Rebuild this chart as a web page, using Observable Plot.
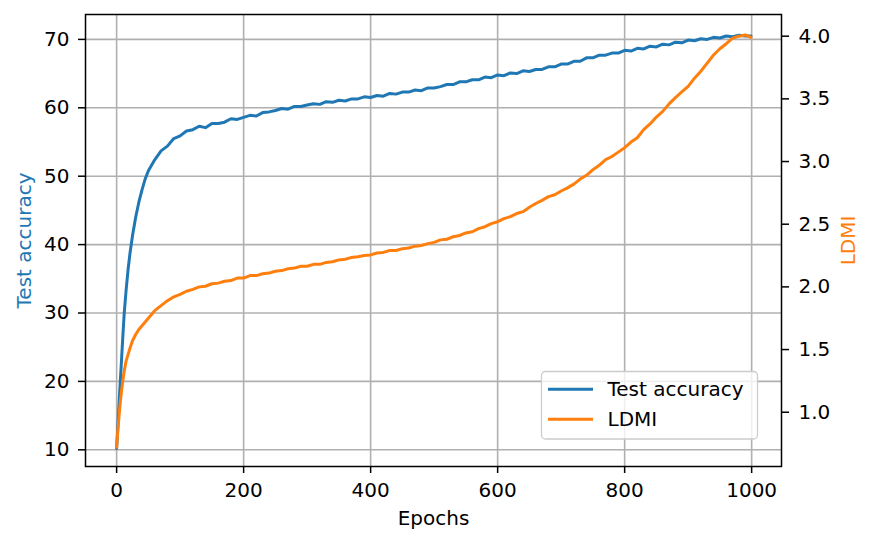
<!DOCTYPE html>
<html>
<head>
<meta charset="utf-8">
<script src="https://cdn.jsdelivr.net/npm/d3@7"></script>
<script src="https://cdn.jsdelivr.net/npm/@observablehq/plot@0.6"></script>
<style>
  html, body { margin: 0; padding: 0; background: #fff; }
  #chart { position: relative; width: 873px; height: 545px; }
</style>
</head>
<body>
<div id="chart"></div>
<script>
// ---- data ----
const epochs = [0,2,4,6,8,10,12,15,18,21,25,30,35,40,45,50,55,60,
  70,80,90,100,110,120,130,140,150,160,170,180,190,200,210,220,230,240,250,260,270,280,290,
  300,310,320,330,340,350,360,370,380,390,400,410,420,430,440,450,460,470,480,490,
  500,510,520,530,540,550,560,570,580,590,600,610,620,630,640,650,660,670,680,690,
  700,710,720,730,740,750,760,770,780,790,800,810,820,830,840,850,860,870,880,890,
  900,910,920,930,940,950,960,970,980,990,999];

const testAccuracy = [10.2,13.5,17.0,20.3,23.6,26.9,30.0,33.4,36.3,38.7,41.3,44.0,46.2,48.0,49.6,50.8,51.6,52.4,
  53.7,54.4,55.5,55.9,56.6,56.8,57.3,57.1,57.7,57.7,57.9,58.4,58.3,58.6,58.9,58.8,59.3,59.4,59.6,59.9,59.8,60.2,60.2,
  60.4,60.6,60.5,60.9,60.8,61.1,61.0,61.3,61.3,61.6,61.5,61.8,61.7,62.1,62.0,62.3,62.3,62.6,62.5,62.9,
  62.9,63.1,63.4,63.4,63.8,63.8,64.1,64.1,64.5,64.4,64.8,64.7,65.1,65.0,65.4,65.3,65.6,65.6,66.0,66.0,
  66.4,66.4,66.8,66.8,67.3,67.3,67.7,67.7,68.0,68.0,68.4,68.3,68.7,68.6,69.0,68.9,69.3,69.2,69.6,69.5,
  69.9,69.8,70.1,70.0,70.3,70.2,70.5,70.4,70.6,70.5,70.5];

const ldmi = [0.72,0.86,0.98,1.09,1.18,1.26,1.33,1.41,1.46,1.51,1.57,1.62,1.66,1.69,1.72,1.75,1.78,1.81,
  1.85,1.89,1.92,1.94,1.965,1.98,2.0,2.005,2.025,2.03,2.045,2.05,2.07,2.07,2.09,2.09,2.105,2.11,2.125,2.13,2.145,2.15,2.165,
  2.165,2.18,2.18,2.195,2.2,2.215,2.22,2.235,2.24,2.25,2.255,2.27,2.275,2.29,2.29,2.305,2.31,2.325,2.33,2.345,
  2.355,2.375,2.38,2.4,2.41,2.43,2.44,2.465,2.48,2.505,2.52,2.545,2.56,2.585,2.6,2.635,2.665,2.69,2.72,2.735,
  2.765,2.79,2.82,2.86,2.89,2.935,2.97,3.015,3.04,3.075,3.11,3.155,3.19,3.255,3.3,3.355,3.4,3.46,3.51,3.555,
  3.6,3.665,3.72,3.785,3.85,3.9,3.94,3.985,4.0,4.01,3.99];

const xTicks = [0, 200, 400, 600, 800, 1000];
const accTicks = [10, 20, 30, 40, 50, 60, 70];
const ldmiTicks = [1.0, 1.5, 2.0, 2.5, 3.0, 3.5, 4.0];
const ldmiTickLabels = ["1.0", "1.5", "2.0", "2.5", "3.0", "3.5", "4.0"];
const seriesNames = ["Test accuracy", "LDMI"];
const xLabel = "Epochs";

// ---- scales ----
const accDomain = [7.56, 73.64];
const ldmiDomain = [0.567, 4.173];
const toAcc = d3.scaleLinear().domain(ldmiDomain).range(accDomain);

const blue = "#1f77b4", orange = "#ff7f0e";
const rows = epochs.map((e, i) => ({epoch: e, acc: testAccuracy[i], ldmi: ldmi[i]}));

const chart = Plot.plot({
  width: 873,
  height: 545,
  marginLeft: 85,
  marginRight: 92,
  marginTop: 14,
  marginBottom: 79,
  style: {fontFamily: "'DejaVu Sans', sans-serif", fontSize: "20px", color: "black", background: "white", overflow: "visible"},
  x: {domain: [-49, 1047]},
  y: {domain: accDomain},
  marks: [
    Plot.gridX(xTicks, {stroke: "#b0b0b0", strokeOpacity: 1, strokeWidth: 1.6}),
    Plot.gridY(accTicks, {stroke: "#b0b0b0", strokeOpacity: 1, strokeWidth: 1.6}),
    Plot.line(rows, {x: "epoch", y: "acc", stroke: blue, strokeWidth: 3}),
    Plot.line(rows, {x: "epoch", y: d => toAcc(d.ldmi), stroke: orange, strokeWidth: 3}),
    Plot.frame({stroke: "black", strokeWidth: 1.5}),
    Plot.axisX(xTicks, {tickSize: 7, tickPadding: 9, strokeWidth: 1.5, label: null, tickFormat: d => String(d)}),
    Plot.axisY(accTicks, {anchor: "left", tickSize: 7, tickPadding: 9, strokeWidth: 1.5, label: null, tickFormat: d => String(d)}),
    Plot.axisY(ldmiTicks.map(v => toAcc(v)), {anchor: "right", tickSize: 7, tickPadding: 10, strokeWidth: 1.5, label: null,
      tickFormat: (d, i) => ldmiTickLabels[i]}),
    Plot.text([seriesNames[0]], {frameAnchor: "left", textAnchor: "middle", rotate: -90, dx: -61, fill: blue, fontSize: 20}),
    Plot.text([seriesNames[1]], {frameAnchor: "right", textAnchor: "middle", rotate: -90, dx: 67, fill: orange, fontSize: 20}),
    Plot.text([xLabel], {frameAnchor: "bottom", dy: 58, fill: "black", fontSize: 20})
  ]
});

document.getElementById("chart").appendChild(chart);

// ---- legend (inside plot area, lower right) ----
const svg = d3.select(chart);
const lg = svg.append("g").attr("font-family", "'DejaVu Sans', sans-serif").attr("font-size", 20).attr("text-anchor", "start");
lg.append("rect")
  .attr("x", 541.5).attr("y", 371.5).attr("width", 216).attr("height", 67.5)
  .attr("rx", 4).attr("fill", "white").attr("fill-opacity", 0.8)
  .attr("stroke", "#cccccc").attr("stroke-width", 1.3);
const legendColors = [blue, orange];
seriesNames.forEach((name, i) => {
  const cy = 389.3 + i * 30;
  lg.append("line").attr("x1", 548).attr("x2", 593).attr("y1", cy).attr("y2", cy)
    .attr("stroke", legendColors[i]).attr("stroke-width", 3);
  lg.append("text").attr("x", 607.5).attr("y", cy).attr("dy", "0.35em")
    .attr("text-anchor", "start").attr("fill", "black").text(name);
});
</script>
</body>
</html>
